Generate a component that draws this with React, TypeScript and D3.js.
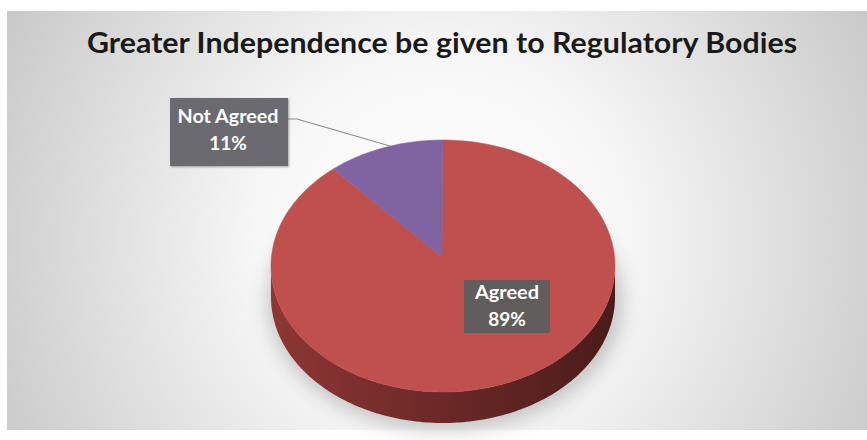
import React from "react";
import * as d3 from "d3";

const categories = ["Agreed", "Not Agreed"];
const values = [89, 11];
const percentLabels = ["89%", "11%"];
const sliceColors = ["#C0504D", "#8064A2"];
const title = "Greater Independence be given to Regulatory Bodies";

const W = 867;
const H = 440;

export default function App() {
  const cx = 443;
  const cy = 266;
  const rx = 172;
  const ry = 126;
  const depth = 31;
  const apex = { x: 442, y: 257 };

  const pie = d3.pie<number>().sort(null).value((d) => d)(values);

  const pt = (a: number, dy = 0) => [cx + rx * Math.sin(a), cy - ry * Math.cos(a) + dy] as [number, number];

  const slicePath = (a0: number, a1: number) => {
    const n = Math.max(4, Math.ceil(((a1 - a0) / (2 * Math.PI)) * 240));
    const pts: [number, number][] = [[apex.x, apex.y]];
    for (let i = 0; i <= n; i++) pts.push(pt(a0 + ((a1 - a0) * i) / n));
    return d3.line()(pts) + "Z";
  };

  const sidePath = (() => {
    const a0 = Math.PI / 2;
    const a1 = (3 * Math.PI) / 2;
    const n = 160;
    const top: [number, number][] = [];
    const bot: [number, number][] = [];
    for (let i = 0; i <= n; i++) {
      const a = a0 + ((a1 - a0) * i) / n;
      top.push(pt(a));
      bot.push(pt(a, depth));
    }
    return d3.line()([...top, ...bot.reverse()]) + "Z";
  })();

  return (
    <svg width={W} height={H} style={{ position: "absolute", left: 0, top: 0 }}>
      <defs>
        <radialGradient id="bg" cx="440" cy="240" r="520" gradientUnits="userSpaceOnUse">
          <stop offset="0" stopColor="#ffffff" />
          <stop offset="0.35" stopColor="#f7f7f7" />
          <stop offset="1" stopColor="#c4c4c4" />
        </radialGradient>
        <linearGradient id="side" x1={cx - rx} x2={cx + rx} y1="0" y2="0" gradientUnits="userSpaceOnUse">
          <stop offset="0" stopColor="#8e3634" />
          <stop offset="0.45" stopColor="#6e2a28" />
          <stop offset="1" stopColor="#4a1b1a" />
        </linearGradient>
        <filter id="blur" x="-30%" y="-30%" width="160%" height="160%">
          <feGaussianBlur stdDeviation="9" />
        </filter>
        <filter id="boxShadow" x="-20%" y="-20%" width="140%" height="140%">
          <feDropShadow dx="1" dy="1" stdDeviation="1.2" floodColor="#000" floodOpacity="0.35" />
        </filter>
      </defs>
      <rect x={0} y={0} width={W} height={H} fill="#ffffff" />
      <rect x={7} y={11} width={W - 7} height={419} fill="url(#bg)" />

      <text
        x={442}
        y={53}
        textAnchor="middle"
        fontFamily="Lato, 'Open Sans', sans-serif"
        fontWeight="bold"
        fontSize={29}
        fill="#1a1a1a"
        textLength={710}
        lengthAdjust="spacingAndGlyphs"
      >
        {title}
      </text>

      <ellipse cx={cx + 2} cy={cy + depth + 4} rx={rx + 6} ry={ry + 4} fill="#8a8a8a" opacity={0.45} filter="url(#blur)" />

      <path d={sidePath} fill="url(#side)" />

      {pie.map((p, i) => (
        <path key={categories[i]} d={slicePath(p.startAngle, p.endAngle)} fill={sliceColors[i]} stroke={sliceColors[i]} strokeWidth={0.5} />
      ))}

      <polyline points="288,119 297,119 390,146" fill="none" stroke="#8c8c8c" strokeWidth={1.2} />

      <g filter="url(#boxShadow)">
        <rect x={170} y={98} width={118} height={68} fill="#6b6b6f" />
      </g>
      <text x={228} y={123} textAnchor="middle" fontFamily="Lato, 'Open Sans', sans-serif" fontWeight="bold" fontSize={19} fill="#ffffff" textLength={101} lengthAdjust="spacingAndGlyphs">
        {categories[1]}
      </text>
      <text x={228} y={150} textAnchor="middle" fontFamily="Lato, 'Open Sans', sans-serif" fontWeight="bold" fontSize={19} fill="#ffffff">
        {percentLabels[1]}
      </text>

      <rect x={464} y={280} width={86} height={53} fill="#615d5c" />
      <text x={507} y={299} textAnchor="middle" fontFamily="Lato, 'Open Sans', sans-serif" fontWeight="bold" fontSize={19} fill="#ffffff" textLength={64} lengthAdjust="spacingAndGlyphs">
        {categories[0]}
      </text>
      <text x={507} y={326} textAnchor="middle" fontFamily="Lato, 'Open Sans', sans-serif" fontWeight="bold" fontSize={19} fill="#ffffff">
        {percentLabels[0]}
      </text>
    </svg>
  );
}
